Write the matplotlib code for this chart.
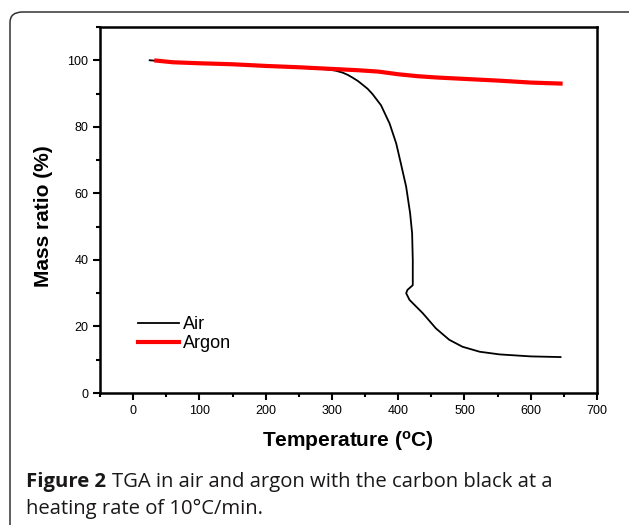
import numpy as np
import matplotlib.pyplot as plt
from matplotlib.patches import FancyBboxPatch
from matplotlib.ticker import MultipleLocator

# Values
air_temp = [25, 50, 100, 150, 200, 250, 290, 305, 316, 324, 331, 339, 346,
            354, 361, 374, 387, 397, 404, 412, 418, 421, 422, 422, 414, 412,
            417, 437, 457, 477, 497, 523, 553, 600, 645]
air_mass = [100, 99.6, 99.1, 98.7, 98.3, 97.8, 97.3, 96.9, 96.3, 95.6, 94.8,
            93.8, 92.7, 91.4, 89.9, 86.5, 81, 75, 69, 62, 54, 48, 40, 32.4, 31,
            30, 28, 24, 19.4, 16, 13.9, 12.4, 11.6, 11.0, 10.8]
argon_temp = [35, 60, 100, 150, 200, 250, 300, 340, 370, 400, 430, 460, 500,
              550, 600, 645]
argon_mass = [99.9, 99.4, 99.1, 98.8, 98.3, 97.9, 97.4, 97.0, 96.6, 95.8, 95.2,
              94.8, 94.4, 93.9, 93.3, 93.0]

plt.rcParams['font.family'] = ['Liberation Sans', 'DejaVu Sans']

W, H = 629, 525
fig = plt.figure(figsize=(W / 100, H / 100), dpi=100)

# rounded frame around figure
frame = FancyBboxPatch((10 / W, -0.05), 2.0, 1 - 12 / H + 0.05,
                       boxstyle='round,pad=0,rounding_size=0.02',
                       transform=fig.transFigure, fill=False,
                       edgecolor='#333333', linewidth=1.1, clip_on=False)
fig.patches.append(frame)

ax = fig.add_axes([100 / W, 1 - 393 / H, 497 / W, 366 / H])

ax.plot(air_temp, air_mass, color='black', lw=1.3, label='Air')
ax.plot(argon_temp, argon_mass, color='red', lw=3.0, label='Argon')

ax.set_xlim(-50, 700)
ax.set_ylim(0, 110)
ax.xaxis.set_major_locator(MultipleLocator(100))
ax.xaxis.set_minor_locator(MultipleLocator(50))
ax.yaxis.set_major_locator(MultipleLocator(20))
ax.yaxis.set_minor_locator(MultipleLocator(10))
ax.tick_params(which='both', direction='out', width=1.5, labelsize=9)
ax.tick_params(which='major', length=5)
ax.tick_params(which='minor', length=3)
for s in ax.spines.values():
    s.set_linewidth(1.8)

ax.set_xlabel('Temperature ($\\mathregular{^oC}$)', fontsize=15, fontweight='bold')
ax.set_ylabel('Mass ratio (%)', fontsize=15, fontweight='bold')
ax.xaxis.set_label_coords(0.499, -0.098)
ax.yaxis.set_label_coords(-0.094, 0.484)

ax.legend(loc='lower left', bbox_to_anchor=(0.061, 0.092), frameon=False,
          fontsize=13, handlelength=2.3, handletextpad=0.2, labelspacing=0.12,
          borderaxespad=0)

# caption
cap = dict(fontsize=14.6, family='Open Sans', color='#1a1718', va='baseline')
t1 = fig.text(26 / W, 1 - 487 / H, 'Figure 2', fontweight='bold', **cap)
bb = t1.get_window_extent(renderer=fig.canvas.get_renderer())
fig.text((bb.x1 + 6) / W, 1 - 487 / H,
         'TGA in air and argon with the carbon black at a', **cap)
fig.text(26 / W, 1 - 514 / H, 'heating rate of 10°C/min.', **cap)

fig.savefig('out.png', dpi=100)
